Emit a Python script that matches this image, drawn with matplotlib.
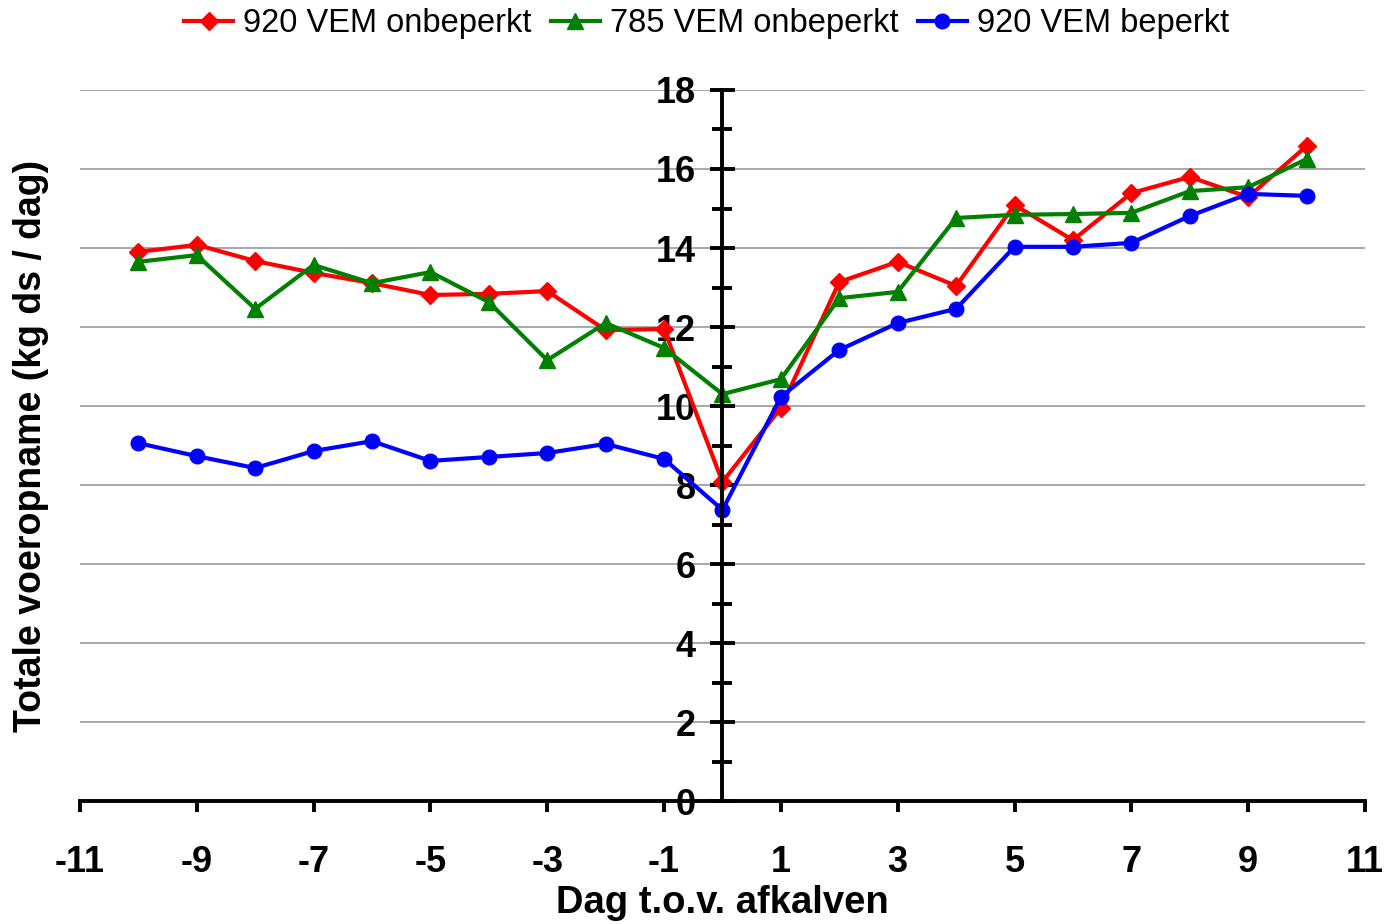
import numpy as np
import matplotlib.pyplot as plt
from matplotlib.ticker import MultipleLocator

plt.rcParams['font.family'] = ['Liberation Sans', 'DejaVu Sans']
plt.rcParams['axes.unicode_minus'] = False

dagen = list(range(-10, 11))
vem920_onbeperkt = [13.9, 14.08, 13.67, 13.37, 13.11, 12.81, 12.84, 12.91, 11.92, 11.95, 8.08,
                    9.95, 13.14, 13.65, 13.04, 15.09, 14.2, 15.39, 15.8, 15.29, 16.58]
vem785_onbeperkt = [13.65, 13.82, 12.46, 13.57, 13.11, 13.39, 12.63, 11.16, 12.1, 11.47, 10.3,
                    10.68, 12.73, 12.89, 14.76, 14.84, 14.86, 14.89, 15.44, 15.54, 16.25]
vem920_beperkt = [9.06, 8.73, 8.43, 8.86, 9.11, 8.61, 8.71, 8.81, 9.04, 8.66, 7.37,
                  10.23, 11.42, 12.1, 12.46, 14.03, 14.03, 14.13, 14.81, 15.37, 15.32]
x_ticks = list(range(-11, 12, 2))
y_ticks = list(range(0, 19, 2))

fig = plt.figure(figsize=(13.88, 9.24), dpi=100)
ax = fig.add_axes([0.0576, 0.1331, 0.9258, 0.7695])

ax.plot(dagen, vem920_onbeperkt, color='#FF0000', lw=3, marker='D', ms=9, label='920 VEM onbeperkt')
ax.plot(dagen, vem785_onbeperkt, color='#008000', lw=3, marker='^', ms=11, label='785 VEM onbeperkt')
ax.plot(dagen, vem920_beperkt, color='#0000FF', lw=3, marker='o', ms=10.5, label='920 VEM beperkt')

ax.set_xlim(-11, 11)
ax.set_ylim(0, 18)
ax.set_yticks(y_ticks)
ax.yaxis.set_minor_locator(MultipleLocator(1))
ax.set_xticks(x_ticks)
ax.grid(axis='y', color='#999999', lw=1.2)
ax.set_axisbelow(True)

ax.spines['left'].set_position(('data', 0))
ax.spines['right'].set_visible(False)
ax.spines['top'].set_visible(False)
ax.spines['left'].set_linewidth(2.8)
ax.spines['bottom'].set_linewidth(2.8)

ax.tick_params(axis='y', which='major', direction='inout', length=18, width=2.8,
               labelsize=26, pad=10)
ax.tick_params(axis='y', which='minor', direction='inout', length=14, width=2.8)
ax.tick_params(axis='x', which='major', direction='out', length=8, width=2.8,
               labelsize=26, pad=24)
for lbl in ax.get_xticklabels() + ax.get_yticklabels():
    lbl.set_fontweight('bold')

ax.set_xlabel('Dag t.o.v. afkalven', fontsize=27.5, fontweight='bold', labelpad=3)
fig.text(0.022, 0.517, 'Totale voeropname (kg ds / dag)', rotation=90, fontsize=27,
         fontweight='bold', ha='center', va='center')

fig.legend(loc='upper center', bbox_to_anchor=(0.509, 1.005), ncol=3, frameon=False,
           fontsize=23.5, handlelength=1.5, handletextpad=0.3, columnspacing=0.6,
           borderaxespad=0)

fig.savefig('out.png', dpi=100)
